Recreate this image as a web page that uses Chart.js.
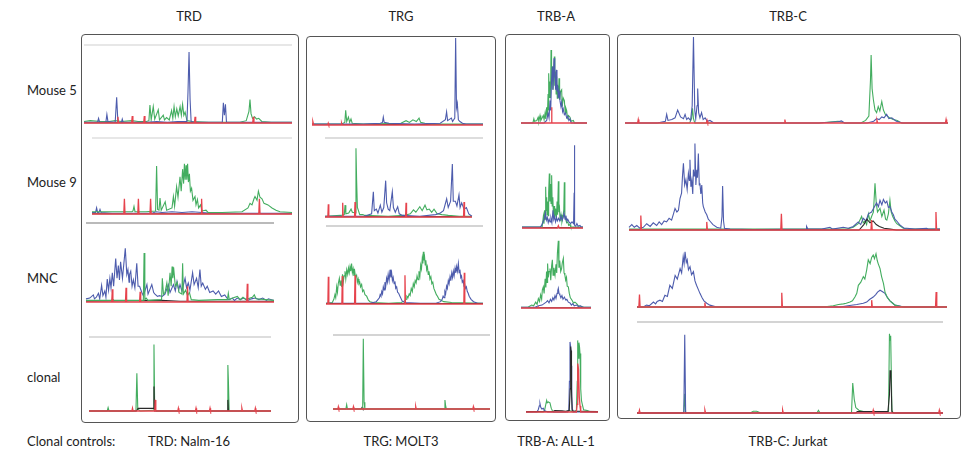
<!DOCTYPE html>
<html>
<head>
<meta charset="utf-8">
<script src="https://cdn.jsdelivr.net/npm/chart.js@4"></script>
<style>
  body { margin: 0; background: #fff; font-family: Lato, "Open Sans", sans-serif; font-size: 13px; color: #222; }
  #page { position: relative; width: 965px; height: 453px; overflow: hidden; }
  .lbl { position: absolute; white-space: nowrap; line-height: 16px; }
  .ctr { transform: translateX(-50%); }
  .box { position: absolute; border: 1px solid #555; border-radius: 4px; }
  canvas { position: absolute; }
</style>
</head>
<body>
<div id="page"></div>
<script>
// column / row names and clonal controls
const columns = ["TRD", "TRG", "TRB-A", "TRB-C"];
const rows = ["Mouse 5", "Mouse 9", "MNC", "clonal"];
const controls = ["TRD: Nalm-16", "TRG: MOLT3", "TRB-A: ALL-1", "TRB-C: Jurkat"];

// traces: flat x,y lists (x = 0..100 across the run, y = 0..100 relative fluorescence)
// --- TRD ---
const trdM5Blue = [0,1, 6.5,1, 7,6, 7.5,1, 10.5,1, 11,11, 11.5,2, 15,1, 15.7,33, 16.3,1, 18,1, 18.4,5, 18.8,1, 30,1, 35,2, 40,1, 45,2, 49.5,2, 50,40, 50.5,91, 51,30, 51.5,2, 53,1, 66.5,1, 67,26, 67.5,10, 68,24, 68.5,1, 80,1, 100,1];
const trdM5Green = [0,2, 3,3, 8,2, 12,2, 15,3, 18,2, 23,3, 26,2, 30,2, 31.2,3, 31.7,23, 32.3,4, 33.3,21, 34,5, 35.7,17, 36.3,4, 38.1,10, 38.7,4, 39.7,7, 41,4, 42.1,16, 42.7,6, 43.3,21, 43.9,8, 44.6,18, 45.3,9, 46.2,21, 46.8,10, 47.4,24, 48,10, 48.6,14, 49.5,3, 52,2, 60,1, 75,1, 78,3, 79.3,15, 79.8,30, 80.3,12, 81,6, 82,8, 83,5, 84,6, 85.5,2, 90,1, 100,1];
const trdM5Red = [0,0, 16,0, 16.3,8, 16.6,0, 22.9,0, 23.2,9, 23.5,0, 28.7,0, 29,9, 29.3,0, 53.1,0, 53.4,8, 53.7,0, 81.1,0, 81.4,8, 81.7,0, 100,0];
const trdM5Black = [0,0.4, 100,0.4];

const trdM9Blue = [0,2, 1.8,2, 2.3,8, 2.8,2, 3.5,2, 4,6, 4.5,2, 10,1, 30,1, 32,3, 35,2, 40,3, 45,2, 50,3, 55,2, 60,1, 100,1];
const trdM9Green = [0,3, 10,3, 20,3, 20.5,4, 21,10, 21.5,3, 27,3, 31.8,4, 32.3,63, 32.8,6, 33.5,5, 34,21, 34.6,5, 36.6,16, 37.3,5, 40,8, 40.7,23, 41.3,10, 42.3,36, 43,22, 44,49, 44.6,30, 45.3,59, 45.8,40, 46.2,66, 46.6,45, 47,64, 47.4,45, 47.8,66, 48.2,42, 48.7,53, 49.2,30, 49.8,34, 50.5,18, 51.5,23, 52,12, 52.7,19, 53.3,8, 54.3,12, 55,4, 57,5, 58,2, 65,2, 75,3, 78,8, 79,14, 80,12, 81,20, 81.5,23, 82.5,18, 83.2,30, 84,22, 85,20, 86,14, 88,12, 90,8, 92,5, 94,3, 100,2];
const trdM9Red = [0,0, 15.9,0, 16.2,20, 16.5,0, 22.9,0, 23.2,20, 23.5,0, 29,0, 29.3,20, 29.6,0, 54.5,0, 54.8,20, 55.1,0, 83.4,0, 83.7,20, 84,0, 100,0];
const trdM9Black = [0,0.4, 100,0.4];

const trdMncBlue = [0,4, 2,5, 3.9,9, 4.5,4, 5.5,6, 6.6,11, 7.3,4, 8.3,21, 9,8, 10,14, 10.6,6, 11.3,29, 12,15, 12.7,30, 13.3,18, 14,37, 14.7,20, 15.8,55, 16.5,30, 17.2,46, 17.8,28, 18.4,51, 19.4,30, 20.9,68, 21.7,35, 22.3,41, 22.9,25, 23.2,35, 23.8,39, 24.5,20, 25.2,28, 26,18, 27,49, 27.7,20, 28.5,20, 29.7,12, 30.5,8, 32.4,22, 33,10, 35,22, 36,12, 36.7,10, 38,7, 39,8, 40.5,7, 42,10, 43.8,22, 44.7,12, 46.5,22, 47.5,14, 48.4,26, 49.3,15, 50,22, 51,14, 52.7,30, 53.5,18, 54.4,24, 55.3,15, 56.7,37, 57.5,22, 58.8,30, 59.7,18, 60.6,41, 61.3,20, 62.1,24, 63.5,16, 64.5,20, 65.8,12, 67.6,14, 69,10, 70.5,14, 72,7, 73.8,9, 75,5, 76,3, 77.8,5, 79,2, 80.4,5, 82,3, 84,5, 86,2, 88,4, 90,5, 92,3, 94,5, 96,2, 97,4, 100,2];
const trdMncGreen = [0,2, 10,2, 13.7,2, 14,4, 15,2, 25,2, 30.5,2, 30.9,62, 31.3,3, 32,5, 33,2, 40.2,3, 40.6,30, 41.2,10, 42,12, 43,24, 43.7,8, 44.7,37, 45.3,20, 45.8,45, 46.2,30, 46.6,44, 47.5,20, 48.5,25, 49.5,12, 51,10, 51.4,49, 51.8,10, 53,15, 54,8, 55,12, 56,3, 60,2, 70,3, 75.2,3, 75.7,11, 76.2,3, 78,5, 80.5,7, 82,3, 83.5,6, 85,3, 88.5,6, 89.5,9, 90.5,4, 100,2];
const trdMncRed = [0,0, 13.7,0, 14,16, 14.3,0, 21,0, 21.3,18, 21.6,0, 28.5,0, 28.8,13, 29.1,0, 53.7,0, 54,20, 54.3,0, 85.5,0, 85.8,23, 86.1,0, 100,0];
const trdMncBlack = [0,1, 40,2, 50,1, 100,1];

const trdClGreen = [0,0, 10,0, 10.5,4.5, 11,0, 25.8,0, 26.3,51, 26.8,3, 28,0, 35.3,1, 35.7,90, 36.1,2, 37,0, 75.9,0, 76.3,62, 76.6,40, 77,0, 100,0];
const trdClBlack = [0,0, 26,0, 27,3.6, 35.3,3.6, 35.7,33, 36,0, 76,0, 76.3,15, 76.6,0, 100,0];
const trdClRed = [0,0, 23.6,0, 23.9,3.6, 24.2,0, 36.1,0, 36.4,15, 36.7,0, 48.8,0, 49.1,3.6, 49.4,0, 58.5,0, 58.8,3.6, 59.1,0, 66.2,0, 66.5,3.6, 66.8,0, 83.7,0, 84,3.6, 84.3,0, 91.1,0, 91.4,3.6, 91.7,0, 100,0];

// --- TRG ---
const trgM5Blue = [0,1, 30,1, 40,2, 41.2,3, 41.7,9, 42.2,3, 45,2, 60,1, 75,2, 78,6, 78.7,15, 79.3,5, 81.5,8, 82.2,4, 83.5,8, 84,100, 84.5,20, 85,25, 85.6,6, 86.5,4, 88,2, 90,1, 100,1];
const trgM5Green = [0,1, 17,1, 19.2,3, 19.7,17, 20.3,4, 21.3,9, 22,3, 22.8,7, 23.5,2, 30,1, 52,2, 55,5, 57,3, 59,6, 61,4, 62.6,8, 63.5,3, 66,2, 70,1, 100,1];
const trgM5Red = [0,0, 0.5,4, 1,0, 9.2,0, 9.5,2, 9.8,0, 17,0, 17.3,2, 17.6,0, 100,0];
const trgM5Black = [0,0.5, 100,0.5];

const trgM9Blue = [0,1, 25,1, 29.5,4, 30.6,32, 31.2,8, 32.5,10, 33.5,5, 35,15, 36,6, 37.2,12, 38.4,46, 39,18, 40,10, 41,8, 42.6,32, 43.3,12, 44.5,6, 46,13, 47,4, 49,2, 60,1, 70,3, 73,5, 75,8, 77,23, 78,12, 79.5,20, 80.6,67, 81.2,20, 82.5,20, 83.5,14, 84.8,28, 85.5,12, 86.5,18, 88,10, 89.5,12, 91,4, 93,1];
const trgM9Green = [0,1, 10,2, 12.2,3, 12.7,15, 13.2,4, 15,5, 16.5,10, 17.3,6, 19.2,5, 19.6,87, 20,47, 20.5,12, 22,3, 24,3, 25,2, 40,1, 50,2, 54,4, 56,9, 57.5,6, 60,13, 61.5,8, 63.3,15, 64.5,9, 66,10, 67.5,6, 69,10, 71,4, 74,3, 78,2, 85,1, 93,1];
const trgM9Red = [0,0, 1.8,0, 2.1,16, 2.4,0, 10.9,0, 11.2,18, 11.5,0, 18.7,0, 19,19, 19.3,0, 51,0, 51.3,18, 51.6,0, 87.7,0, 88,19, 88.3,0, 93,0];
const trgM9Black = [0,0.5, 93,0.5];

const trgMncBlue = [0,1, 28,1, 32,3, 34,8, 34.5,12, 35,10, 35.5,16, 36,13, 36.5,22, 37,18, 37.5,28, 38,22, 38.6,33, 39.1,28, 39.6,38, 40.2,30, 40.8,44, 41.3,34, 41.8,40, 42.3,30, 42.8,34, 43.4,26, 43.9,29, 44.4,20, 45,22, 45.6,15, 46.2,14, 47.1,10, 48.5,4, 50,2, 60,1, 70,1, 73,3, 74,6, 74.6,10, 75.2,8, 75.7,16, 76.2,13, 76.8,23, 77.3,20, 77.9,30, 78.4,26, 79,35, 79.5,30, 80.1,40, 80.6,34, 81.1,42, 81.6,36, 82.2,46, 82.7,40, 83.2,48, 83.7,42, 84.3,52, 84.8,40, 85.3,44, 85.8,34, 86.3,36, 86.8,28, 87.3,30, 87.8,24, 88.3,26, 88.8,20, 89.4,22, 90,16, 90.5,14, 91.2,10, 92.4,6, 94,3, 96.6,1, 100,1];
const trgMncGreen = [0,1, 4,2, 5,6, 5.7,12, 6.2,8, 6.8,22, 7.3,15, 7.8,26, 8.5,33, 9,24, 9.5,30, 10,22, 10.5,38, 11,28, 11.5,36, 12.1,42, 12.6,32, 13.2,44, 13.8,38, 14.3,46, 14.8,40, 15.3,48, 15.8,42, 16.3,52, 16.8,40, 17.3,45, 17.8,36, 18.3,42, 18.8,34, 19.5,37, 20,28, 20.5,32, 21,26, 21.5,28, 22,22, 22.7,25, 23.3,16, 24,18, 24.8,12, 25.9,10, 27,5, 28,3, 30,2, 40,1, 48,2, 50,4, 51,6, 51.5,10, 52.2,8, 53,13, 53.6,11, 54.3,20, 55,16, 55.6,26, 56.2,22, 56.8,30, 57.4,27, 58,36, 58.6,31, 59.2,42, 59.8,36, 60.3,50, 60.8,45, 61.3,58, 61.7,52, 62,67, 62.4,56, 62.8,60, 63.2,50, 63.6,56, 64.1,44, 64.6,48, 65.1,38, 65.6,42, 66.2,32, 66.8,35, 67.4,26, 68,28, 68.7,20, 69.5,16, 70.3,12, 71,10, 72,6, 73,5, 75,3, 80,2, 100,1];
const trgMncRed = [0,0, 1.2,0, 1.5,35, 1.8,0, 10.1,0, 10.4,36, 10.7,0, 18.2,0, 18.5,37, 18.8,0, 50,0, 50.3,37, 50.6,0, 87.8,0, 88.1,40, 88.4,0, 100,0];
const trgMncBlack = [0,0.6, 100,0.6];

const trgClGreen = [0,0, 8.2,0, 8.7,6, 9.2,0, 18.9,0, 19.3,95, 19.8,9, 20.3,0, 70.9,0, 71.3,12, 71.7,5, 72.2,0, 100,0];
const trgClRed = [0,0, 3.1,0, 3.4,3, 3.7,0, 12.7,0, 13,3, 13.3,0, 52.4,0, 52.7,3, 53,0, 89.1,0, 89.4,3, 89.7,0, 100,0];
const trgClBlack = [0,0, 18,0, 18.5,2, 19,0, 100,0];

// --- TRB-A ---
const trbaM5Green = [0,0, 18,0, 19.5,5, 20.5,2, 24,3, 26,7, 27,2, 28.8,9, 30,3, 33.8,9, 35,4, 36.5,12, 37.5,5, 38.9,19, 40,8, 41,35, 41.5,15, 42.4,60, 43,30, 44,50, 44.7,30, 45.5,88, 46.3,50, 47.5,68, 48.3,40, 49.3,55, 50.5,80, 51.3,45, 52.5,62, 53.2,35, 54,56, 55,30, 56,45, 56.7,32, 57.6,54, 58.5,28, 60,38, 61.6,40, 62.5,20, 64,30, 65.7,27, 67,12, 68,18, 69.2,15, 70.5,6, 72,9, 74.2,7, 76,2, 79.3,3, 81,0, 100,0];
const trbaM5Blue = [0,0, 35,0, 38.9,3, 41,12, 42.5,6, 44,27, 45,15, 46.2,50, 47.5,68, 48.5,40, 50,78, 50.8,55, 51.5,60, 52.5,40, 53.5,64, 54.5,38, 55.5,46, 56.5,30, 57.6,38, 59,27, 60.5,20, 61.6,25, 63,14, 64,17, 65.7,10, 67.5,12, 69.2,6, 71,8, 72.5,3, 74.2,5, 76,0, 100,0];
const trbaM5Red = [0,0, 46.2,0, 46.5,19, 46.8,0, 100,0];

const trbaM9Green = [0,1, 33,1, 35,13, 36,5, 37,20, 38,10, 38.8,47, 39.6,20, 40.5,35, 41.2,15, 42,30, 43,14, 43.7,40, 44.8,62, 45.7,30, 46.8,50, 47.6,28, 48.6,60, 49.5,25, 50.5,35, 51.5,15, 52.5,25, 53.5,12, 55,22, 56.3,10, 57.5,30, 58.3,15, 59.6,53, 60.5,18, 61.5,22, 62.5,8, 64,15, 65.5,7, 67,12, 68.5,20, 69.4,52, 70.3,15, 71.5,10, 73.2,6, 75,7, 76.5,3, 78.7,4, 80,1, 100,1];
const trbaM9Blue = [0,1, 30,1, 32,3, 33.3,5, 35,8, 36.5,10, 38.3,17, 40,9, 41.5,12, 43,6, 44.5,10, 46,7, 47.5,11, 49,6, 50.8,20, 52,10, 53,13, 55,7, 56.5,12, 58,8, 60,11, 62,8, 64,14, 66,9, 67.5,12, 69,17, 70.5,10, 72,14, 73.5,8, 75,10, 77,7, 79.5,5, 82,7, 84.5,5, 85.5,40, 85.8,94, 86.2,40, 86.6,3, 88,2, 90,5, 92,2, 95,3, 97,1, 100,1];
const trbaM9Red = [0,0, 58,0, 59.6,2.5, 61,0, 100,0];
const trbaM9Black = [0,0.4, 100,0.4];

const trbaMncGreen = [0,1, 10,1, 15.2,4, 18,3, 21,8, 23,5, 24.8,13, 26.5,9, 28,18, 29.5,12, 30.5,25, 31.9,29, 33,20, 34.5,40, 35.5,28, 36.5,50, 37.3,35, 38,61, 39,42, 40,50, 41.4,54, 42.5,38, 43.8,58, 44.8,66, 45.8,45, 47,55, 48.6,45, 50,60, 51,48, 52,75, 53.3,92, 54.2,55, 55.3,65, 56.7,50, 58,54, 59,62, 60.5,68, 61.5,48, 62.7,45, 63.8,38, 65,42, 66,30, 67.6,29, 69,20, 70.5,14, 72,12, 73.3,10, 75,7, 77,8, 79.5,6, 82,3, 86.7,2, 90,1, 100,1];
const trbaMncBlue = [0,1, 20,1, 25,3, 30,4, 33,6, 36,8, 38,10, 40,7, 42,12, 43.8,9, 45.5,14, 47,11, 48.6,17, 50,13, 51.5,20, 52.5,24, 53.3,27, 54.3,20, 55.5,18, 57,14, 58.5,17, 60,12, 62,15, 63.8,11, 65.5,12, 67.6,8, 70,7, 72,4, 74,6, 76,3, 79.5,4, 82,2, 85,3, 88,1, 100,1];
const trbaMncRed = [0,0, 24.5,0, 24.8,2.5, 25.1,0, 100,0];
const trbaMncBlack = [0,0.4, 100,0.4];

const trbaClBlue = [0,0, 15,0, 17,3, 18.5,8, 19.4,11, 20.5,6, 22,4, 24,5, 25.5,2, 30,0, 58,0, 59.5,3, 60.3,40, 61.1,91, 62,85, 62.8,60, 63.5,20, 64.4,4, 66,0, 100,0];
const trbaClGreen = [0,0, 24,0, 26,3, 27.5,10, 28.7,15, 29.5,12, 31,13, 33.3,12, 35,5, 36.5,2, 38,0, 55,0, 60,2, 65,0, 70,2, 71.2,40, 71.8,93, 72.5,70, 73.5,90, 74.3,85, 75,76, 76,30, 77,15, 78.2,10, 80,3, 85,2, 90,0, 100,0];
const trbaClBlack = [0,0.5, 38,1, 40,2, 50,1.5, 55,1, 60,2, 61.5,30, 62,85, 62.5,80, 63.2,30, 64,2, 66,1, 75,1, 100,0.5];
const trbaClRed = [0,0, 70,0, 71,10, 71.5,45, 72.2,63, 73,55, 74,20, 75,8, 76,0, 100,0];

// --- TRB-C ---
const trbcM5Blue = [0,0, 10,0, 12.5,2, 12.9,10, 13.3,3, 14.5,4, 15.5,6, 16.3,15, 17.2,7, 18.1,5, 18.6,10, 19.1,4, 19.6,6, 20.3,3, 20.8,20, 21.2,100, 21.6,15, 21.9,5, 22.3,20, 22.5,40, 22.8,12, 23.2,6, 23.7,12, 24.2,4, 24.8,6, 25.5,2, 26.3,3, 27.5,0, 60,0, 66,1.5, 67,2.5, 68,0, 75,0, 77,2, 77.9,5, 78.7,4, 79.5,7, 80.2,6, 81,10, 81.7,5, 82.6,6, 84,2, 86,0, 100,0];
const trbcM5Green = [0,0, 20,0, 20.6,5, 20.9,17, 21.2,5, 21.6,0, 60,0, 66,2, 68,0, 73,0, 74.5,3, 75.5,8, 76,50, 76.2,79, 76.5,40, 76.9,27, 77.4,15, 77.9,12, 78.4,19, 78.9,14, 79.5,25, 80,15, 80.6,10, 81.2,8, 82,6, 83,4, 84.3,3, 85.5,0, 100,0];
const trbcM5Red = [0,0, 3.9,0, 4.1,4, 4.3,0, 25.2,0, 25.4,3, 25.6,0, 49.3,0, 49.5,4, 49.7,0, 77.8,0, 78,3, 78.2,0, 99.2,0, 99.4,4, 99.6,0, 100,0];

const trbcM9Blue = [0,3, 0.9,6, 1.7,3, 2.5,5, 3.5,2, 4.6,3, 5.7,7, 6.8,4, 7.8,8, 8.9,5, 9.7,9, 10.5,6, 11.3,10, 12.1,9, 12.9,13, 13.7,11, 14.3,18, 14.8,24, 15.4,20, 15.9,22, 16.4,35, 16.9,41, 17.2,60, 17.5,74, 17.9,50, 18.3,56, 18.7,45, 19.1,63, 19.4,55, 19.6,78, 19.9,48, 20.2,55, 20.5,40, 20.7,67, 21,60, 21.2,96, 21.5,50, 21.8,67, 22,58, 22.3,85, 22.6,50, 22.8,52, 23.1,40, 23.4,50, 23.7,30, 23.9,26, 24.5,20, 25,17, 25.5,12, 26,10, 27,6, 28.2,3, 29.5,2, 29.9,15, 30.1,49, 30.4,10, 30.7,2, 32.5,1, 40,0.5, 57,1, 57.1,4, 57.5,1, 62,1, 64.6,3, 65.5,1, 68.9,3, 70.5,2, 72.1,4, 73.7,9, 74.5,6, 75.3,13, 76.2,10, 77,18, 78,20, 78.6,24, 79.6,30, 80.2,26, 80.7,33, 81.3,28, 81.8,34, 82.4,30, 82.9,32, 83.4,25, 83.9,26, 84.5,20, 85,17, 85.5,12, 86.1,10, 87,6, 87.7,4, 88.5,2, 89.3,2, 92,1, 95.7,2, 96.2,1, 100,1];
const trbcM9Green = [0,1, 70,1, 72.1,3, 73.7,7, 74.8,15, 75.3,8, 75.9,10, 76.4,6, 77,18, 77.5,10, 78,15, 78.6,20, 79.1,52, 79.5,30, 79.9,20, 80.7,24, 81.3,15, 82,22, 82.5,12, 82.9,11, 83.4,18, 83.9,33, 84.3,20, 84.8,15, 85.5,10, 86.1,7, 87,5, 88.2,2, 90,1, 100,1];
const trbcM9Red = [0,0, 3.6,0, 3.8,16, 4,0, 24.8,0, 25,9, 25.2,0, 48.8,0, 49,18, 49.2,0, 77.8,0, 78,11, 78.2,0, 98.5,0, 98.7,20, 98.9,0, 100,0];
const trbcM9Black = [0,0, 74,0, 75.5,6, 76.5,12, 77.5,8, 78.5,10, 79.5,6, 80.5,4, 82,2, 84,1, 86,0, 100,0];

const trbcMncBlue = [0,0, 2,0, 3.1,3, 4,2, 5.3,8, 6,5, 6.5,9, 7.4,11, 8.2,9, 9,19, 9.8,17, 10.6,35, 11.4,30, 12.3,51, 13,45, 13.9,62, 14.4,55, 14.9,81, 15.2,70, 15.5,89, 15.9,72, 16.2,76, 16.6,60, 17.1,65, 17.6,52, 18.2,57, 18.7,42, 19.2,35, 19.8,28, 20.3,22, 21,15, 21.6,10, 22.5,6, 23.5,3, 25.7,0, 50,0, 65.5,0, 68,2, 70.9,4, 73,6, 74.1,8, 75,12, 76.2,16, 77,20, 77.6,24, 78.4,27, 79.1,25, 80,22, 80.8,15, 81.6,10, 82.5,6, 83.2,3, 84.5,2, 86,0, 100,0];
const trbcMncGreen = [0,0, 60,0, 63.3,2, 65,4, 66.6,5, 67.5,6, 68.7,8, 69.5,10, 70.3,16, 70.9,22, 71.4,35, 72.2,40, 73,49, 73.5,45, 74.1,60, 74.6,76, 75.2,70, 75.7,80, 76.2,84, 76.6,78, 77.1,86, 77.5,75, 77.8,70, 78.4,62, 78.9,49, 79.5,38, 80,24, 80.8,15, 81.6,10, 82.5,6, 83.2,3, 84,2, 86,0, 100,0];
const trbcMncRed = [0,0, 0.6,0, 0.8,20, 1,0, 21.7,0, 21.9,7, 22.1,0, 46.5,0, 46.7,23, 46.9,0, 75.5,0, 75.7,11, 75.9,0, 96.3,0, 96.5,24, 96.7,0, 100,0];
const trbcMncBlack = [0,0, 100,0];

const trbcClBlue = [0,0, 15.3,0, 15.6,86, 15.9,0, 100,0];
const trbcClGreen = [0,0, 15.3,0, 15.6,21, 15.9,0, 37,0, 38,2, 39.1,2, 40.5,0, 58.8,0, 59.3,3, 59.8,0, 70.1,0, 70.5,33, 71,15, 71.5,6, 72.5,3, 74,1.5, 82.2,1.5, 82.5,87, 82.7,80, 82.9,85, 83.3,3, 83.7,0, 100,0];
const trbcClBlack = [0,0, 71.5,0, 72,1.5, 82,1.5, 82.5,20, 82.7,47, 83,40, 83.3,1, 84,0, 100,0];
const trbcClRed = [0,0, 0.6,0, 0.8,3, 1,0, 22,0, 22.2,3, 22.4,0, 47.4,0, 47.6,3, 47.8,0, 77,0, 77.2,3, 77.4,0, 98.6,0, 98.8,3, 99,0, 100,0];

// colours
const BLUE = "#4d5cad", GREEN = "#43ad5f", RED = "#e6434d", BLACK = "#2a2a2a";

// layout (page pixels)
const colX = [189, 401, 556, 788];
const rowY = [90, 182, 278, 377];
const boxes = [[81, 34, 297, 421], [306, 36, 494, 420], [505, 34, 608, 419], [617, 34, 959, 417]];

// traces listed bottom layer first
const panels = [
  { l: 84, r: 292, t: 45, b: 123, line: "#cfcfcf", tr: [[trdM5Black, BLACK], [trdM5Green, GREEN], [trdM5Blue, BLUE], [trdM5Red, RED]] },
  { l: 92, r: 292, t: 138, b: 214, line: "#cfcfcf", tr: [[trdM9Black, BLACK], [trdM9Blue, BLUE], [trdM9Green, GREEN], [trdM9Red, RED]] },
  { l: 86, r: 274, t: 223, b: 302, line: "#777", tr: [[trdMncBlack, BLACK], [trdMncBlue, BLUE], [trdMncGreen, GREEN], [trdMncRed, RED]] },
  { l: 89, r: 271, t: 337, b: 411, line: "#bbb", tr: [[trdClGreen, GREEN], [trdClBlack, BLACK], [trdClRed, RED]] },

  { l: 312, r: 483, t: 38, b: 125, line: null, tr: [[trgM5Black, BLACK], [trgM5Green, GREEN], [trgM5Blue, BLUE], [trgM5Red, RED]] },
  { l: 325, r: 483, t: 138, b: 217, line: "#bbb", tr: [[trgM9Black, BLACK], [trgM9Green, GREEN], [trgM9Blue, BLUE], [trgM9Red, RED]] },
  { l: 326, r: 483, t: 226, b: 304, line: "#aaa", tr: [[trgMncGreen, GREEN], [trgMncBlue, BLUE], [trgMncBlack, BLACK], [trgMncRed, RED]] },
  { l: 333, r: 490, t: 335, b: 409, line: "#aaa", tr: [[trgClBlack, BLACK], [trgClGreen, GREEN], [trgClRed, RED]] },

  { l: 521, r: 587, t: 40, b: 123, line: null, tr: [[trbaM5Green, GREEN], [trbaM5Blue, BLUE], [trbaM5Red, RED]] },
  { l: 522, r: 583, t: 140, b: 228, line: null, tr: [[trbaM9Black, BLACK], [trbaM9Green, GREEN], [trbaM9Blue, BLUE], [trbaM9Red, RED]] },
  { l: 521, r: 591, t: 235, b: 308, line: null, tr: [[trbaMncBlack, BLACK], [trbaMncGreen, GREEN], [trbaMncBlue, BLUE], [trbaMncRed, RED]] },
  { l: 526, r: 598, t: 335, b: 412, line: null, tr: [[trbaClGreen, GREEN], [trbaClBlue, BLUE], [trbaClBlack, BLACK], [trbaClRed, RED]] },

  { l: 625, r: 948, t: 37, b: 123, line: null, tr: [[trbcM5Green, GREEN], [trbcM5Blue, BLUE], [trbcM5Red, RED]] },
  { l: 629, r: 940, t: 140, b: 230, line: null, tr: [[trbcM9Green, GREEN], [trbcM9Blue, BLUE], [trbcM9Black, BLACK], [trbcM9Red, RED]] },
  { l: 637, r: 947, t: 245, b: 307, line: null, tr: [[trbcMncBlack, BLACK], [trbcMncBlue, BLUE], [trbcMncGreen, GREEN], [trbcMncRed, RED]] },
  { l: 637, r: 943, t: 322, b: 413, line: "#aaa", tr: [[trbcClGreen, GREEN], [trbcClBlue, BLUE], [trbcClBlack, BLACK], [trbcClRed, RED]] }
];

const page = document.getElementById("page");

function addLabel(text, x, y, centred) {
  const d = document.createElement("div");
  d.className = "lbl" + (centred ? " ctr" : "");
  d.textContent = text;
  d.style.left = x + "px";
  d.style.top = (y - 8) + "px";
  page.appendChild(d);
}

boxes.forEach(b => {
  const d = document.createElement("div");
  d.className = "box";
  d.style.left = b[0] + "px";
  d.style.top = b[1] + "px";
  d.style.width = (b[2] - b[0]) + "px";
  d.style.height = (b[3] - b[1]) + "px";
  page.appendChild(d);
});

columns.forEach((c, i) => addLabel(c, colX[i], 16, true));
rows.forEach((r, i) => addLabel(r, 27, rowY[i], false));
addLabel("Clonal controls:", 27, 441, false);
controls.forEach((c, i) => addLabel(c, colX[i], 441, true));

function pairs(flat) {
  const out = [];
  for (let i = 0; i < flat.length; i += 2) out.push({ x: flat[i], y: flat[i + 1] });
  return out;
}

const PAD = 3;
panels.forEach(p => {
  const cv = document.createElement("canvas");
  const w = p.r - p.l + PAD * 2, h = p.b - p.t + PAD * 2;
  cv.width = w; cv.height = h;
  cv.style.left = (p.l - PAD) + "px";
  cv.style.top = (p.t - PAD) + "px";
  page.appendChild(cv);

  const layers = [];
  if (p.line) {
    layers.push({ data: [{ x: 0, y: 100 }, { x: 100, y: 100 }], borderColor: p.line, borderWidth: 1.2 });
  }
  p.tr.forEach(([arr, col]) => {
    layers.push({ data: pairs(arr), borderColor: col, borderWidth: col === RED ? 1.3 : 1.1 });
  });
  // Chart.js paints dataset 0 last (on top), so hand it the top layer first
  const datasets = layers.reverse();

  new Chart(cv, {
    type: "line",
    data: { datasets: datasets },
    options: {
      responsive: false,
      animation: false,
      events: [],
      layout: { padding: PAD },
      elements: { point: { radius: 0 }, line: { tension: 0 } },
      datasets: { line: { clip: false } },
      plugins: { legend: { display: false }, tooltip: { enabled: false } },
      scales: {
        x: { type: "linear", min: 0, max: 100, display: false },
        y: { min: 0, max: 100, display: false }
      }
    }
  });
});
</script>
</body>
</html>
